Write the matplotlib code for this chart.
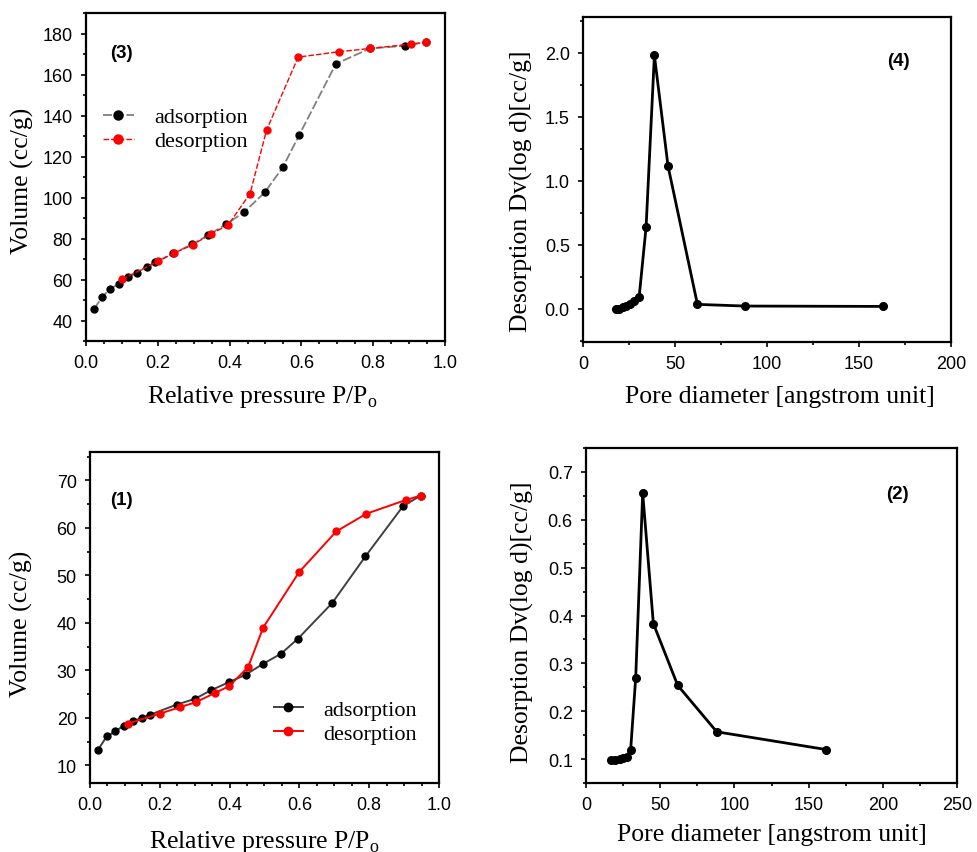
import numpy as np
import matplotlib
matplotlib.use("Agg")
import matplotlib.pyplot as plt
from matplotlib.ticker import MultipleLocator, FormatStrFormatter

# ================= DATA =================
# (3) isotherm
p3_ads = [0.023, 0.045, 0.067, 0.093, 0.117, 0.141, 0.169, 0.192, 0.242, 0.296,
          0.341, 0.390, 0.440, 0.498, 0.548, 0.594, 0.696, 0.791, 0.889, 0.947]
v3_ads = [45.7, 51.5, 55.4, 58.0, 61.0, 63.2, 66.2, 68.3, 72.7, 77.2,
          81.7, 86.9, 92.8, 102.5, 114.7, 130.5, 165.2, 172.7, 174.0, 175.8]
p3_des = [0.100, 0.200, 0.244, 0.297, 0.348, 0.396, 0.457, 0.503, 0.591,
          0.705, 0.791, 0.904, 0.947]
v3_des = [60.1, 68.8, 72.8, 76.9, 82.2, 86.6, 101.9, 132.9, 168.5,
          171.1, 172.7, 174.8, 175.8]

# (1) isotherm
p1_ads = [0.022, 0.048, 0.073, 0.097, 0.124, 0.148, 0.173, 0.248, 0.300, 0.346,
          0.397, 0.446, 0.496, 0.547, 0.596, 0.694, 0.789, 0.897, 0.947]
v1_ads = [13.2, 16.1, 17.2, 18.4, 19.3, 20.0, 20.7, 22.8, 24.0, 25.8,
          27.5, 29.1, 31.4, 33.5, 36.7, 44.2, 54.0, 64.6, 66.8]
p1_des = [0.108, 0.200, 0.259, 0.303, 0.359, 0.399, 0.453, 0.496, 0.599,
          0.706, 0.792, 0.905, 0.947]
v1_des = [18.8, 20.9, 22.3, 23.3, 25.3, 26.7, 30.7, 39.0, 50.7,
          59.3, 63.0, 65.9, 66.8]

# (4) pore size distribution
d4 = [18.1, 19.5, 21.5, 23.5, 25.5, 27.5, 30.5, 34.3, 38.8, 46.2, 62.2, 87.9, 163.2]
dv4 = [0.0, 0.0, 0.01, 0.02, 0.035, 0.06, 0.09, 0.64, 1.98, 1.116, 0.034, 0.021, 0.018]

# (2) pore size distribution
d2 = [16.6, 19.6, 23.0, 25.2, 27.4, 30.1, 33.5, 38.2, 45.4, 61.8, 88.1, 161.6]
dv2 = [0.099, 0.099, 0.100, 0.103, 0.105, 0.120, 0.270, 0.656, 0.383, 0.254, 0.157, 0.120]

W, H = 978, 853
SERIF = "Liberation Serif"
SANS = "Liberation Sans"

fig = plt.figure(figsize=(W / 100, H / 100), dpi=100)


def make_axes(l, r, t, b):
    return fig.add_axes([l / W, 1 - b / H, (r - l) / W, (b - t) / H])


def style(ax, xlim, ylim, xmaj, xmin, ymaj, ymin, xfmt, yfmt):
    ax.set_xlim(*xlim)
    ax.set_ylim(*ylim)
    ax.xaxis.set_major_locator(MultipleLocator(xmaj))
    ax.xaxis.set_minor_locator(MultipleLocator(xmin))
    ax.yaxis.set_major_locator(MultipleLocator(ymaj))
    ax.yaxis.set_minor_locator(MultipleLocator(ymin))
    ax.xaxis.set_major_formatter(FormatStrFormatter(xfmt))
    ax.yaxis.set_major_formatter(FormatStrFormatter(yfmt))
    for s in ax.spines.values():
        s.set_linewidth(1.6)
    ax.tick_params(which="both", direction="out", width=1.2, labelsize=13, pad=6)
    ax.tick_params(which="major", length=3.5)
    ax.tick_params(which="minor", length=2.5)
    for lab in ax.get_xticklabels() + ax.get_yticklabels():
        lab.set_family(SANS)


def labels(ax, xl, yl, xpos, ypos):
    ax.set_xlabel(xl, family=SERIF, fontsize=18.5)
    ax.set_ylabel(yl, family=SERIF, fontsize=18.5)
    ax.xaxis.set_label_coords(*xpos)
    ax.yaxis.set_label_coords(*ypos)
    ax.xaxis.label.set_va("center")
    ax.yaxis.label.set_va("center")


def tag(ax, x, y, s):
    ax.text(x, y, s, transform=ax.transAxes, family=SANS,
            fontweight="bold", fontsize=13.5, ha="center", va="center")


# ================= (3) =================
ax3 = make_axes(86, 445, 14, 342)
ax3.plot(p3_ads, v3_ads, color="#808080", lw=1.3, ls=(0, (5, 1.5)),
         marker="o", ms=5, mfc="black", mec="black", label="adsorption")
ax3.plot(p3_des, v3_des, color="red", lw=1.0, ls=(0, (4, 1.5)),
         marker="o", ms=5, mfc="red", mec="red", label="desorption")
style(ax3, (0, 1), (30, 190), 0.2, 0.05, 20, 10, "%.1f", "%d")
labels(ax3, "Relative pressure P/P$_\\mathregular{o}$", "Volume (cc/g)",
       (0.49, -0.168), (-0.178, 0.49))
tag(ax3, 0.1, 0.88, "(3)")
ax3.legend(loc="center left", bbox_to_anchor=(0.047, 0.646), frameon=False,
           prop={"family": SERIF, "size": 16}, handlelength=1.4, markerscale=1.3,
           handletextpad=0.9, labelspacing=0.15, borderpad=0, borderaxespad=0)

# ================= (4) =================
ax4 = make_axes(583, 951, 18, 343)
ax4.plot(d4, dv4, color="black", lw=2.0, marker="o", ms=5.5)
style(ax4, (0, 200), (-0.26, 2.28), 50, 25, 0.5, 0.25, "%d", "%.1f")
labels(ax4, "Pore diameter [angstrom unit]", "Desorption Dv(log d)[cc/g]",
       (0.535, -0.166), (-0.166, 0.468))
tag(ax4, 0.856, 0.865, "(4)")

# ================= (1) =================
ax1 = make_axes(90, 439, 453, 784)
ax1.plot(p1_ads, v1_ads, color="#404040", lw=1.4,
         marker="o", ms=5, mfc="black", mec="black", label="adsorption")
ax1.plot(p1_des, v1_des, color="red", lw=1.4,
         marker="o", ms=5, mfc="red", mec="red", label="desorption")
style(ax1, (0, 1), (6.3, 76), 0.2, 0.05, 10, 5, "%.1f", "%d")
labels(ax1, "Relative pressure P/P$_\\mathregular{o}$", "Volume (cc/g)",
       (0.5, -0.175), (-0.195, 0.483))
tag(ax1, 0.09, 0.858, "(1)")
ax1.legend(loc="center left", bbox_to_anchor=(0.527, 0.186), frameon=False,
           prop={"family": SERIF, "size": 16}, handlelength=1.3, markerscale=1.2,
           handletextpad=0.9, labelspacing=0.15, borderpad=0, borderaxespad=0)

# ================= (2) =================
ax2 = make_axes(586, 957, 449, 784)
ax2.plot(d2, dv2, color="black", lw=2.0, marker="o", ms=5.5)
style(ax2, (0, 250), (0.05, 0.75), 50, 25, 0.1, 0.05, "%d", "%.1f")
labels(ax2, "Pore diameter [angstrom unit]", "Desorption Dv(log d)[cc/g]",
       (0.5, -0.152), (-0.172, 0.484))
tag(ax2, 0.84, 0.863, "(2)")

fig.savefig("out.png", dpi=100)
